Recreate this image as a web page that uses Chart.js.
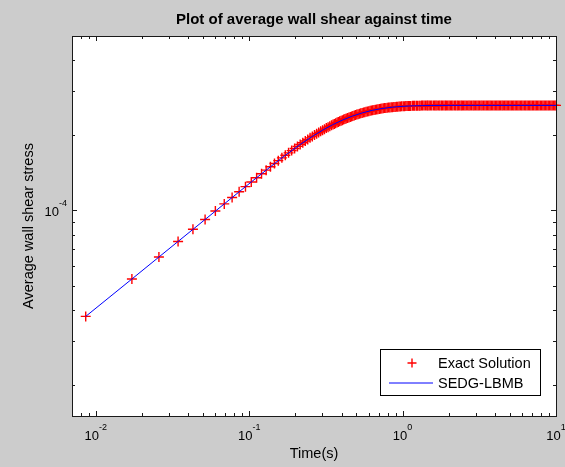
<!DOCTYPE html>
<html>
<head>
<meta charset="utf-8">
<script src="https://cdn.jsdelivr.net/npm/chart.js@4.4.1/dist/chart.umd.min.js"></script>
<style>
html, body { margin: 0; padding: 0; background: #cccccc; }
#wrap { width: 565px; height: 467px; }
</style>
</head>
<body>
<div id="wrap"><canvas id="chart"></canvas></div>
<script>
const chart_title = 'Plot of average wall shear against time'
const x_title = 'Time(s)'
const y_title = 'Average wall shear stress'

// exact solution, one '+' per sample
const exact_time = [
    0.0086, 0.0172, 0.0258, 0.0344, 0.043, 0.0516, 0.0602, 0.0688, 0.0774, 0.086,
    0.0946, 0.1032, 0.1118, 0.1204, 0.129, 0.1376, 0.1462, 0.1548, 0.1634, 0.172,
    0.1806, 0.1892, 0.1978, 0.2064, 0.215, 0.2236, 0.2322, 0.2408, 0.2494, 0.258,
    0.2666, 0.2752, 0.2838, 0.2924, 0.301, 0.3096, 0.3182, 0.3268, 0.3354, 0.344,
    0.352, 0.359, 0.366, 0.374, 0.381,
    0.389, 0.397, 0.405, 0.413, 0.421, 0.429, 0.438, 0.447, 0.456, 0.465,
    0.474, 0.484, 0.493, 0.503, 0.513, 0.524, 0.534, 0.545, 0.556, 0.567,
    0.578, 0.590, 0.602, 0.614, 0.626, 0.638, 0.651, 0.664, 0.678, 0.691,
    0.705, 0.719, 0.733, 0.748, 0.763, 0.778, 0.794, 0.810, 0.826, 0.843,
    0.859, 0.877, 0.894, 0.912, 0.930, 0.949, 0.968, 0.987, 1.01, 1.03,
    1.05, 1.07, 1.09, 1.11, 1.13, 1.16, 1.18, 1.20, 1.23, 1.25,
    1.28, 1.30, 1.33, 1.35, 1.38, 1.41, 1.44, 1.46, 1.49, 1.52,
    1.55, 1.59, 1.62, 1.65, 1.68, 1.72, 1.75, 1.79, 1.82, 1.86,
    1.90, 1.93, 1.97, 2.01, 2.05, 2.09, 2.13, 2.18, 2.22, 2.27,
    2.31, 2.36, 2.41, 2.45, 2.50, 2.55, 2.60, 2.66, 2.71, 2.76,
    2.82, 2.88, 2.93, 2.99, 3.05, 3.11, 3.17, 3.24, 3.30, 3.37,
    3.44, 3.51, 3.58, 3.65, 3.72, 3.79, 3.87, 3.95, 4.03, 4.11,
    4.19, 4.27, 4.36, 4.45, 4.53, 4.63, 4.72, 4.81, 4.91, 5.01,
    5.11, 5.21, 5.31, 5.42, 5.53, 5.64, 5.75, 5.87, 5.98, 6.10,
    6.23, 6.35, 6.48, 6.61, 6.74, 6.87, 7.01, 7.15, 7.30, 7.44,
    7.59, 7.74, 7.90, 8.06, 8.22, 8.38, 8.55, 8.72, 8.90, 9.07,
    9.26, 9.44, 9.63, 9.82, 10.0
]
const exact_stress = [
    3.76e-5, 5.31e-5, 6.51e-5, 7.51e-5, 8.40e-5, 9.20e-5, 9.94e-5, 1.062e-4, 1.127e-4, 1.188e-4,
    1.245e-4, 1.300e-4, 1.352e-4, 1.403e-4, 1.450e-4, 1.496e-4, 1.541e-4, 1.583e-4, 1.624e-4, 1.663e-4,
    1.701e-4, 1.737e-4, 1.771e-4, 1.805e-4, 1.837e-4, 1.867e-4, 1.897e-4, 1.925e-4, 1.953e-4, 1.979e-4,
    2.004e-4, 2.029e-4, 2.052e-4, 2.075e-4, 2.096e-4, 2.117e-4, 2.137e-4, 2.156e-4, 2.175e-4, 2.193e-4,
    2.208e-4, 2.222e-4, 2.235e-4, 2.249e-4, 2.261e-4,
    2.275e-4, 2.288e-4, 2.300e-4, 2.312e-4, 2.324e-4, 2.335e-4, 2.347e-4, 2.359e-4, 2.370e-4, 2.381e-4,
    2.391e-4, 2.402e-4, 2.411e-4, 2.421e-4, 2.431e-4, 2.441e-4, 2.450e-4, 2.459e-4, 2.467e-4, 2.476e-4,
    2.483e-4, 2.491e-4, 2.499e-4, 2.506e-4, 2.513e-4, 2.520e-4, 2.526e-4, 2.533e-4, 2.539e-4, 2.545e-4,
    2.550e-4, 2.555e-4, 2.560e-4, 2.565e-4, 2.570e-4, 2.574e-4, 2.579e-4, 2.583e-4, 2.586e-4, 2.590e-4,
    2.593e-4, 2.597e-4, 2.599e-4, 2.602e-4, 2.605e-4, 2.607e-4, 2.609e-4, 2.612e-4, 2.614e-4, 2.616e-4,
    2.618e-4, 2.619e-4, 2.620e-4, 2.622e-4, 2.623e-4, 2.624e-4, 2.625e-4, 2.626e-4, 2.627e-4, 2.628e-4,
    2.628e-4, 2.629e-4, 2.630e-4, 2.630e-4, 2.631e-4, 2.631e-4, 2.632e-4, 2.632e-4, 2.632e-4, 2.633e-4,
    2.633e-4, 2.633e-4, 2.634e-4, 2.634e-4, 2.634e-4, 2.634e-4, 2.634e-4, 2.634e-4, 2.635e-4, 2.635e-4,
    2.635e-4, 2.635e-4, 2.635e-4, 2.635e-4, 2.635e-4, 2.635e-4, 2.635e-4, 2.635e-4, 2.635e-4, 2.635e-4,
    2.635e-4, 2.635e-4, 2.635e-4, 2.635e-4, 2.635e-4, 2.635e-4, 2.635e-4, 2.635e-4, 2.635e-4, 2.635e-4,
    2.635e-4, 2.635e-4, 2.635e-4, 2.635e-4, 2.635e-4, 2.635e-4, 2.635e-4, 2.635e-4, 2.635e-4, 2.635e-4,
    2.635e-4, 2.635e-4, 2.635e-4, 2.635e-4, 2.635e-4, 2.635e-4, 2.635e-4, 2.635e-4, 2.635e-4, 2.635e-4,
    2.635e-4, 2.635e-4, 2.635e-4, 2.635e-4, 2.635e-4, 2.635e-4, 2.635e-4, 2.635e-4, 2.635e-4, 2.635e-4,
    2.635e-4, 2.635e-4, 2.635e-4, 2.635e-4, 2.635e-4, 2.635e-4, 2.635e-4, 2.635e-4, 2.635e-4, 2.635e-4,
    2.635e-4, 2.635e-4, 2.635e-4, 2.635e-4, 2.635e-4, 2.635e-4, 2.635e-4, 2.635e-4, 2.635e-4, 2.635e-4,
    2.635e-4, 2.635e-4, 2.635e-4, 2.635e-4, 2.635e-4, 2.635e-4, 2.635e-4, 2.635e-4, 2.635e-4, 2.635e-4,
    2.635e-4, 2.635e-4, 2.635e-4, 2.635e-4, 2.635e-4
]

// SEDG-LBMB simulation line
const lbmb_time = [
    0.0086, 0.0172, 0.0344, 0.0688, 0.1032, 0.1376, 0.172, 0.215, 0.257, 0.300,
    0.349, 0.405, 0.470, 0.546, 0.634, 0.736, 0.855, 0.993, 1.15, 1.34,
    1.55, 2.0, 3.0, 5.0, 10.0
]
const lbmb_stress = [
    3.76e-5, 5.31e-5, 7.51e-5, 1.062e-4, 1.300e-4, 1.496e-4, 1.663e-4, 1.837e-4, 1.976e-4, 2.094e-4,
    2.203e-4, 2.300e-4, 2.387e-4, 2.460e-4, 2.518e-4, 2.561e-4, 2.592e-4, 2.612e-4, 2.624e-4, 2.630e-4,
    2.633e-4, 2.635e-4, 2.635e-4, 2.635e-4, 2.635e-4
]

// axis ticks (log decades with minor ticks) and labelled powers of ten
const x_ticks = [
    0.007, 0.008, 0.009, 0.01, 0.02, 0.03, 0.04, 0.05, 0.06, 0.07, 0.08, 0.09,
    0.1, 0.2, 0.3, 0.4, 0.5, 0.6, 0.7, 0.8, 0.9, 1, 2, 3, 4, 5, 6, 7, 8, 9, 10
]
const x_label_values = [0.01, 0.1, 1, 10]
const x_label_exps = ['-2', '-1', '0', '1']
const y_ticks = [
    2e-5, 3e-5, 4e-5, 5e-5, 6e-5, 7e-5, 8e-5, 9e-5, 1e-4, 2e-4, 3e-4, 4e-4, 5e-4
]
const y_label_values = [1e-4]
const y_label_exps = ['-4']

const FONT = '"Liberation Sans", Arial, sans-serif'

function crisp(v) {
    return Math.round(v) + 0.5
}

function draw_power(ctx, x, y, exp, align) {
    ctx.font = '13px ' + FONT
    const w_base = ctx.measureText('10').width
    ctx.font = '9px ' + FONT
    const w_exp = ctx.measureText(exp).width
    const left = align === 'center' ? x - (w_base + w_exp) / 2 : x - (w_base + w_exp)
    ctx.textAlign = 'left'
    ctx.textBaseline = 'alphabetic'
    ctx.font = '13px ' + FONT
    ctx.fillText('10', left, y)
    ctx.font = '9px ' + FONT
    ctx.fillText(exp, left + w_base, y - 10)
}

const matlab_frame = {
    id: 'matlab_frame',
    beforeDraw(chart) {
        const { ctx, chartArea: a } = chart
        ctx.save()
        ctx.fillStyle = '#cccccc'
        ctx.fillRect(0, 0, chart.width, chart.height)
        ctx.fillStyle = '#ffffff'
        ctx.fillRect(a.left, a.top, a.right - a.left, a.bottom - a.top)
        ctx.restore()
    },
    afterDraw(chart) {
        const { ctx, chartArea: a } = chart
        const xs = chart.scales.x
        const ys = chart.scales.y
        ctx.save()
        ctx.strokeStyle = '#1a1a1a'
        ctx.lineWidth = 1

        // inward ticks on all four sides
        ctx.beginPath()
        x_ticks.forEach((v) => {
            const px = crisp(xs.getPixelForValue(v))
            const len = x_label_values.includes(v) ? 5 : 3
            ctx.moveTo(px, a.bottom)
            ctx.lineTo(px, a.bottom - len)
            ctx.moveTo(px, a.top)
            ctx.lineTo(px, a.top + len)
        })
        y_ticks.forEach((v) => {
            const py = crisp(ys.getPixelForValue(v))
            const len = y_label_values.includes(v) ? 5 : 3
            ctx.moveTo(a.left, py)
            ctx.lineTo(a.left + len, py)
            ctx.moveTo(a.right, py)
            ctx.lineTo(a.right - len, py)
        })
        ctx.stroke()

        ctx.strokeRect(crisp(a.left), crisp(a.top), Math.round(a.right - a.left), Math.round(a.bottom - a.top))

        // tick labels
        ctx.fillStyle = '#000000'
        x_label_values.forEach((v, i) => {
            draw_power(ctx, xs.getPixelForValue(v), a.bottom + 24, x_label_exps[i], 'center')
        })
        y_label_values.forEach((v, i) => {
            draw_power(ctx, a.left - 5, ys.getPixelForValue(v) + 6, y_label_exps[i], 'right')
        })

        // axis titles
        ctx.font = '14.5px ' + FONT
        ctx.textAlign = 'center'
        ctx.textBaseline = 'middle'
        ctx.fillText(x_title, (a.left + a.right) / 2, 454)
        ctx.save()
        ctx.translate(29, (a.top + a.bottom) / 2)
        ctx.rotate(-Math.PI / 2)
        ctx.fillText(y_title, 0, 0)
        ctx.restore()

        // legend box, lower right
        const box = { left: 380, top: 349, width: 160, height: 46 }
        ctx.fillStyle = '#ffffff'
        ctx.fillRect(box.left, box.top, box.width, box.height)
        ctx.strokeStyle = '#000000'
        ctx.strokeRect(box.left + 0.5, box.top + 0.5, box.width, box.height)

        const ds = chart.data.datasets
        const rows = [363, 383]
        ds.forEach((d, i) => {
            const y = rows[i]
            if (d.showLine === false) {
                const r = 4.5
                ctx.strokeStyle = d.pointBorderColor
                ctx.lineWidth = d.pointBorderWidth
                ctx.beginPath()
                ctx.moveTo(412 - r, y)
                ctx.lineTo(412 + r, y)
                ctx.moveTo(412, y - r)
                ctx.lineTo(412, y + r)
                ctx.stroke()
            } else {
                ctx.strokeStyle = d.borderColor
                ctx.lineWidth = d.borderWidth
                ctx.beginPath()
                ctx.moveTo(389, y)
                ctx.lineTo(433, y)
                ctx.stroke()
            }
            ctx.fillStyle = '#000000'
            ctx.font = '14.5px ' + FONT
            ctx.textAlign = 'left'
            ctx.textBaseline = 'middle'
            ctx.fillText(d.label, 438, y + 1)
        })
        ctx.restore()
    }
}

const chart = new Chart(document.querySelector('#chart'), {
    type: 'line',
    data: {
        datasets: [{
            label: 'Exact Solution',
            data: exact_time.map((t, i) => ({ x: t, y: exact_stress[i] })),
            showLine: false,
            pointStyle: 'cross',
            pointRadius: 5,
            pointBorderColor: '#ff0000',
            pointBorderWidth: 1.4,
            borderColor: '#ff0000',
            clip: false,
            order: 1,
        }, {
            label: 'SEDG-LBMB',
            data: lbmb_time.map((t, i) => ({ x: t, y: lbmb_stress[i] })),
            borderColor: '#0000ff',
            borderWidth: 1,
            pointRadius: 0,
            tension: 0,
            order: 0,
        }]
    },
    options: {
        responsive: true,
        maintainAspectRatio: false,
        animation: false,
        events: [],
        layout: {
            padding: { left: 72, right: 9, top: 0, bottom: 51 }
        },
        plugins: {
            legend: { display: false },
            tooltip: { enabled: false },
            title: {
                display: true,
                text: chart_title,
                color: '#000000',
                font: { family: FONT, size: 15, weight: 'bold' },
                padding: { top: 11, bottom: 7 },
            },
        },
        scales: {
            x: {
                type: 'logarithmic',
                min: 0.007,
                max: 10,
                display: false,
            },
            y: {
                type: 'logarithmic',
                min: 1.5e-5,
                max: 5e-4,
                display: false,
            }
        }
    },
    plugins: [matlab_frame]
});
</script>
</body>
</html>
